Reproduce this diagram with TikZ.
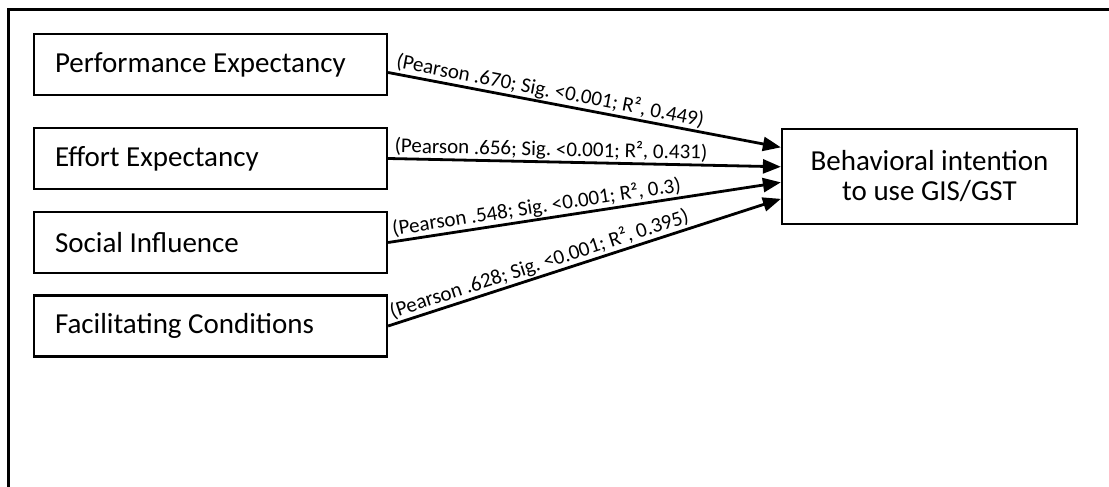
\documentclass[tikz,border=0pt]{standalone}
\usepackage{fontspec}
\setmainfont{Carlito}
\usetikzlibrary{arrows.meta,calc}
\frenchspacing

% left-aligned box label of fixed width
\newcommand{\leftlabel}[1]{\makebox[311pt][l]{#1}}

\tikzset{
  factor/.style={draw=black, line width=2.2pt, minimum width=353pt, minimum height=61pt,
    inner xsep=21pt, inner ysep=0pt,
    font=\fontsize{29}{30}\selectfont, text=black},
  outcome/.style={draw=black, line width=2.2pt, minimum width=295pt, minimum height=95pt,
    align=center, font=\fontsize{29}{30}\selectfont, text=black},
  link/.style={line width=2.8pt, -{Triangle[length=18pt,width=14pt]}},
  stat/.style={sloped, anchor=south west, inner xsep=1pt, inner ysep=1pt,
    font=\fontsize{21}{24}\selectfont, text=black},
  frameline/.style={line width=3pt}
}

\begin{document}
\begin{tikzpicture}[x=1pt,y=1pt]
  \useasboundingbox (0,0) rectangle (1109,-487);
  \fill[white] (0,0) rectangle (1109,-487);

  % page frame (top and left edges)
  \coordinate (fbl) at (8.5,-487);
  \coordinate (ftl) at (8.5,-9.5);
  \coordinate (ftr) at (1109,-9.5);
  \draw[frameline] (fbl) -- (ftl) -- (ftr);

  % predictors
  \node[factor] (pe) at (210.5,-64.5) {\leftlabel{Performance Expectancy}};
  \node[factor] (ee) at (210.5,-158.5) {\leftlabel{Effort Expectancy}};
  \node[factor] (si) at (210.5,-242.5) {\leftlabel{Social Influence}};
  \node[factor] (fc) at (210.5,-326) {\leftlabel{Facilitating Conditions}};

  % outcome
  \node[outcome] (bi) at (929.5,-176.5) {Behavioral intention\\to use GIS/GST};

  % arrow end points on the outcome box
  \coordinate (t1) at ($(bi.north west)!0.20!(bi.south west)$);
  \coordinate (t2) at ($(bi.north west)!0.40!(bi.south west)$);
  \coordinate (t3) at ($(bi.north west)!0.56!(bi.south west)$);
  \coordinate (t4) at ($(bi.north west)!0.73!(bi.south west)$);

  \draw[link] ([yshift=-8pt]pe.east) -- node[stat, pos=0.01] {(Pearson .670; Sig. <0.001; R², 0.449)} (t1);
  \draw[link] (ee.east) -- node[stat, pos=0.01] {(Pearson .656; Sig. <0.001; R², 0.431)} (t2);
  \draw[link] (si.east) -- node[stat, pos=0.01] {(Pearson .548; Sig. <0.001; R², 0.3)} (t3);
  \draw[link] (fc.east) -- node[stat, pos=0.01] {(Pearson .628; Sig. <0.001; R², 0.395)} (t4);
\end{tikzpicture}
\end{document}
